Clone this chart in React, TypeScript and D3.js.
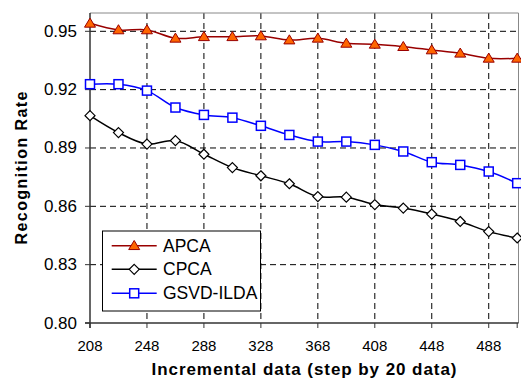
import React from "react";
import * as d3 from "d3";

const xValues = [208, 228, 248, 268, 288, 308, 328, 348, 368, 388, 408, 428, 448, 468, 488, 508];
const apca = [0.9541, 0.9507, 0.9507, 0.9464, 0.9472, 0.9472, 0.9476, 0.9455, 0.9464, 0.9438, 0.9433, 0.9421, 0.9404, 0.9387, 0.9361, 0.9361];
const cpca = [0.9066, 0.8979, 0.892, 0.8938, 0.8868, 0.8799, 0.8757, 0.8716, 0.865, 0.8647, 0.8609, 0.8591, 0.856, 0.8522, 0.847, 0.8437];
const gsvd = [0.9228, 0.9228, 0.9195, 0.9108, 0.907, 0.9056, 0.9014, 0.8967, 0.8933, 0.8933, 0.8916, 0.8882, 0.8827, 0.8813, 0.8779, 0.8719];
const xTicks = [208, 248, 288, 328, 368, 408, 448, 488];
const yTicks = [0.8, 0.83, 0.86, 0.89, 0.92, 0.95];
const seriesNames = ["APCA", "CPCA", "GSVD-ILDA"];

const W = 521, H = 379;
const L = 90, T = 13, R = 518.5, B = 323;

export default function App() {
  const x = d3.scaleLinear().domain([208, 508]).range([L, 517.2]);
  const y = d3.scaleLinear().domain([0.8, 0.95]).range([B, 31.3]);
  const line = d3.line<number>()
    .x((_, i) => x(xValues[i]))
    .y((d) => y(d))
    .curve(d3.curveCatmullRom.alpha(0.5));
  const font = "'Liberation Sans', Arial, sans-serif";

  const tri = (cx: number, cy: number, s = 5.5) =>
    `M${cx},${cy - s * 0.95}L${cx + s},${cy + s * 0.7}L${cx - s},${cy + s * 0.7}Z`;
  const diamond = (cx: number, cy: number, s = 5) =>
    `M${cx},${cy - s}L${cx + s},${cy}L${cx},${cy + s}L${cx - s},${cy}Z`;

  const styles = [
    { data: apca, stroke: "#990000", marker: (cx: number, cy: number) => <path d={tri(cx, cy)} fill="#FF6600" stroke="#990000" strokeWidth={1} /> },
    { data: cpca, stroke: "#000000", marker: (cx: number, cy: number) => <path d={diamond(cx, cy)} fill="#fff" stroke="#000" strokeWidth={1.2} /> },
    { data: gsvd, stroke: "#0000FF", marker: (cx: number, cy: number) => <rect x={cx - 4.5} y={cy - 4.5} width={9} height={9} fill="#fff" stroke="#0000FF" strokeWidth={1.5} /> },
  ];

  const legendY = [245.7, 269.3, 293.3];

  return (
    <svg width={W} height={H} style={{ position: "absolute", left: 0, top: 0, background: "#fff" }} fontFamily={font}>
      <rect x={0} y={0} width={W} height={H} fill="#fff" />
      {/* grid */}
      {yTicks.filter((t) => t > 0.8).map((t) => (
        <line key={"gy" + t} x1={L} x2={R} y1={y(t)} y2={y(t)} stroke="#000" strokeWidth={1} strokeDasharray="6,4" />
      ))}
      {xTicks.filter((t) => t > 208).map((t) => (
        <line key={"gx" + t} x1={x(t)} x2={x(t)} y1={T} y2={B} stroke="#000" strokeWidth={1} strokeDasharray="6,4" />
      ))}
      {/* frame */}
      <line x1={L} x2={R} y1={T} y2={T} stroke="#888" strokeWidth={1} />
      <line x1={R} x2={R} y1={T} y2={B} stroke="#888" strokeWidth={1} />
      <line x1={L} x2={L} y1={T} y2={B + 5} stroke="#333" strokeWidth={1.5} />
      <line x1={L - 5} x2={R} y1={B} y2={B} stroke="#333" strokeWidth={1.5} />
      {/* ticks */}
      {yTicks.map((t) => (
        <g key={"ty" + t}>
          <line x1={L - 5} x2={L} y1={y(t)} y2={y(t)} stroke="#333" strokeWidth={1} />
          <text x={77} y={y(t)} textAnchor="end" dominantBaseline="central" fontSize={17} fill="#000">
            {t.toFixed(2)}
          </text>
        </g>
      ))}
      {xTicks.map((t) => (
        <g key={"tx" + t}>
          <line x1={x(t)} x2={x(t)} y1={B} y2={B + 5} stroke="#333" strokeWidth={1} />
          <text x={x(t)} y={345} textAnchor="middle" dominantBaseline="central" fontSize={15} fill="#000">
            {t}
          </text>
        </g>
      ))}
      <line x1={x(508)} x2={x(508)} y1={B} y2={B + 5} stroke="#333" strokeWidth={1} />
      {/* series */}
      {styles.map((s, k) => (
        <g key={"s" + k}>
          <path d={line(s.data) || ""} fill="none" stroke={s.stroke} strokeWidth={1.5} />
          {s.data.map((v, i) => (
            <g key={i}>{s.marker(x(xValues[i]), y(v))}</g>
          ))}
        </g>
      ))}
      {/* legend */}
      <rect x={102.5} y={231} width={158} height={80} fill="#fff" stroke="#000" strokeWidth={1} />
      {styles.map((s, k) => (
        <g key={"l" + k}>
          <line x1={111.7} x2={156.7} y1={legendY[k]} y2={legendY[k]} stroke={s.stroke} strokeWidth={1.5} />
          {s.marker(134.2, legendY[k])}
          <text x={163} y={legendY[k]} dominantBaseline="central" fontSize={17.5} fill="#000">
            {seriesNames[k]}
          </text>
        </g>
      ))}
      {/* axis titles */}
      <text x={304} y={369} textAnchor="middle" dominantBaseline="central" fontSize={17} fontWeight="bold" fill="#000" textLength={305} lengthAdjust="spacing">
        Incremental data (step by 20 data)
      </text>
      <text transform={`translate(21.5,168) rotate(-90)`} textAnchor="middle" dominantBaseline="central" fontSize={16} fontWeight="bold" fill="#000" textLength={153} lengthAdjust="spacing">
        Recognition Rate
      </text>
    </svg>
  );
}
